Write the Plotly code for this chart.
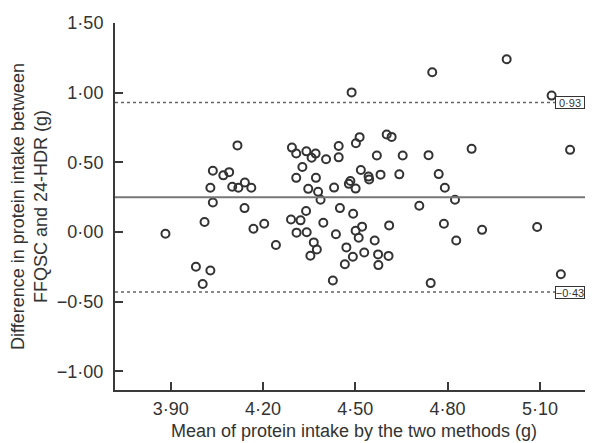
import plotly.graph_objects as go

# Bland-Altman data: mean of the two methods (x) vs difference (y)
mean_intake = [
    3.883, 3.982, 4.004, 4.029, 4.010, 4.037, 4.029, 4.037, 4.071, 4.090,
    4.100, 4.120, 4.141, 4.162, 4.117, 4.140, 4.169, 4.204, 4.242, 4.294,
    4.308, 4.341, 4.358, 4.371, 4.405, 4.446, 4.446, 4.502, 4.514, 4.602,
    4.618, 4.570, 4.654, 4.328, 4.308, 4.372, 4.518, 4.582, 4.643, 4.543,
    4.545, 4.484, 4.479, 4.501, 4.347, 4.379, 4.387, 4.431, 4.450, 4.340,
    4.493, 4.291, 4.322, 4.396, 4.522, 4.501, 4.610, 4.309, 4.342, 4.437,
    4.511, 4.365, 4.563, 4.375, 4.354, 4.471, 4.529, 4.492, 4.574, 4.608,
    4.466, 4.575, 4.427, 4.488, 4.750, 4.992, 5.138, 4.738, 4.878, 5.198,
    4.771, 4.791, 4.824, 4.708, 4.788, 4.828, 4.912, 5.091, 5.168, 4.745,
]
difference = [
    -0.012, -0.249, -0.373, -0.276, 0.072, 0.212, 0.318, 0.440, 0.407, 0.430,
    0.325, 0.318, 0.356, 0.318, 0.622, 0.172, 0.024, 0.060, -0.093, 0.606,
    0.564, 0.579, 0.533, 0.563, 0.522, 0.617, 0.536, 0.637, 0.681, 0.700,
    0.683, 0.549, 0.550, 0.467, 0.389, 0.389, 0.445, 0.412, 0.414, 0.398,
    0.378, 0.366, 0.346, 0.312, 0.310, 0.289, 0.232, 0.319, 0.172, 0.151,
    0.131, 0.090, 0.084, 0.067, 0.039, 0.009, 0.048, -0.004, -0.001, -0.016,
    -0.041, -0.074, -0.060, -0.125, -0.170, -0.110, -0.147, -0.177, -0.160, -0.171,
    -0.231, -0.237, -0.348, 1.002, 1.147, 1.240, 0.979, 0.552, 0.597, 0.590,
    0.416, 0.318, 0.232, 0.189, 0.060, -0.060, 0.016, 0.036, -0.303, -0.366,
]

mean_difference = 0.25
upper_limit = 0.93
lower_limit = -0.43
upper_label = "0·93"
lower_label = "−0·43"

x_tick_vals = [3.9, 4.2, 4.5, 4.8, 5.1]
x_tick_text = ["3·90", "4·20", "4·50", "4·80", "5·10"]
y_tick_vals = [-1.0, -0.5, 0.0, 0.5, 1.0, 1.5]
y_tick_text = ["−1·00", "−0·50", "0·00", "0·50", "1·00", "1·50"]

x_title = "Mean of protein intake by the two methods (g)"
y_title = "Difference in protein intake between<br>FFQSC and 24-HDR (g)"

FONT = "Liberation Sans, Arial, Helvetica, sans-serif"
AXIS_COLOR = "#3a3a3a"

fig = go.Figure()
fig.add_trace(go.Scatter(
    x=mean_intake, y=difference, mode="markers",
    marker=dict(symbol="circle-open", size=8, color="#333333",
                line=dict(width=2, color="#333333")),
    showlegend=False, hoverinfo="x+y",
))

# mean difference line
fig.add_shape(type="line", xref="paper", x0=0, x1=1, yref="y",
              y0=mean_difference, y1=mean_difference,
              line=dict(color="#777777", width=2))
# limits of agreement
for lim in (upper_limit, lower_limit):
    fig.add_shape(type="line", xref="paper", x0=0, x1=0.925, yref="y",
                  y0=lim, y1=lim,
                  line=dict(color="#666666", width=1.5, dash="dot"))

for lim, lab in ((upper_limit, upper_label), (lower_limit, lower_label)):
    fig.add_annotation(x=1, xref="paper", xanchor="right", xshift=-8,
                       y=lim, yref="y", yanchor="middle",
                       text=lab, showarrow=False, align="center",
                       font=dict(family=FONT, size=11, color="#333333"),
                       bordercolor="#333333", borderwidth=1, borderpad=0,
                       bgcolor="white", width=28, height=11)

# page body adds an 8px offset, so the figure is 8px smaller than the window
fig.update_layout(
    width=585, height=435,
    margin=dict(l=107, r=0, t=15, b=53, autoexpand=False),
    paper_bgcolor="white", plot_bgcolor="white",
    font=dict(family=FONT, size=18, color="#333333"),
    xaxis=dict(
        range=[3.719, 5.2725], showgrid=False, zeroline=False, automargin=False,
        showline=True, linecolor=AXIS_COLOR, linewidth=2,
        ticks="inside", ticklen=8, tickwidth=2, tickcolor=AXIS_COLOR,
        tickvals=x_tick_vals, ticktext=x_tick_text,
        tickfont=dict(size=18), ticklabelstandoff=1,
        title=dict(text=x_title, font=dict(size=18), standoff=7),
    ),
    yaxis=dict(
        range=[-1.133, 1.5], showgrid=False, zeroline=False, automargin=False,
        showline=True, linecolor=AXIS_COLOR, linewidth=2,
        ticks="inside", ticklen=8, tickwidth=2, tickcolor=AXIS_COLOR,
        tickvals=y_tick_vals, ticktext=y_tick_text,
        tickfont=dict(size=18), ticklabelstandoff=6,
        title=dict(text=y_title, font=dict(size=18), standoff=8),
    ),
)

fig.write_html("out.html")
